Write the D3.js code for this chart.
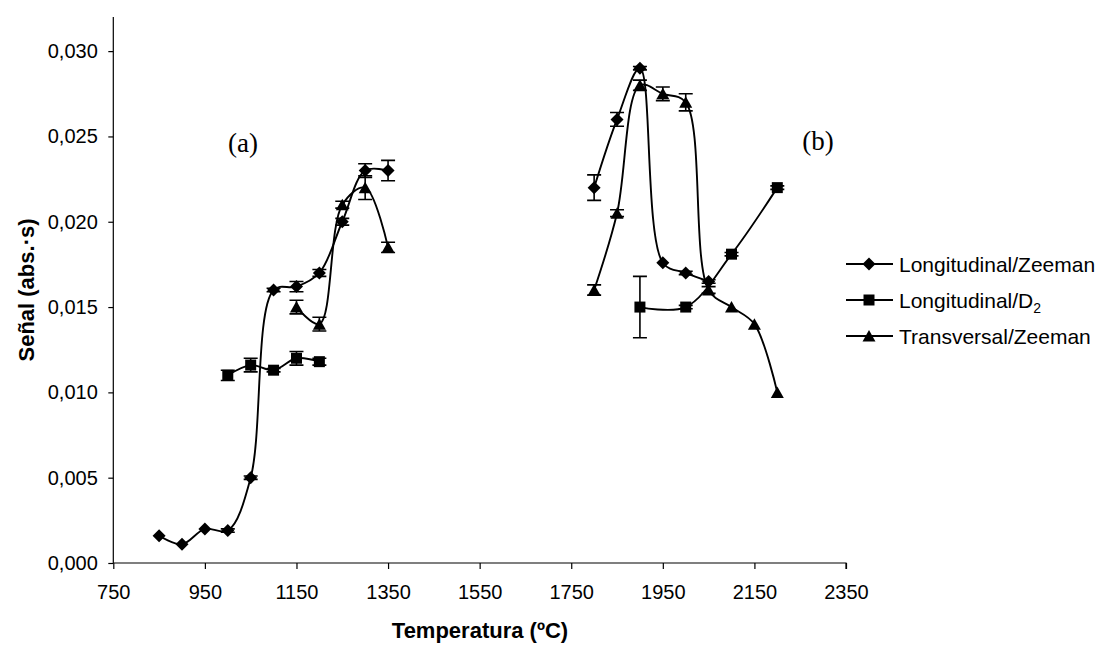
<!DOCTYPE html>
<html><head><meta charset="utf-8">
<script src="https://cdn.jsdelivr.net/npm/d3@7"></script>
<style>
html,body{margin:0;padding:0;background:#fff;}
svg{display:block;}
text{font-family:"Liberation Sans",Arial,sans-serif;fill:#000;}
</style></head>
<body>
<svg id="chart" width="1099" height="646"></svg>
<script>
// ---- Data ----
const seriesNames = ["Longitudinal/Zeeman", "Longitudinal/D2", "Transversal/Zeeman"];
const xTickLabels = [750, 950, 1150, 1350, 1550, 1750, 1950, 2150, 2350];
const yTickLabels = [0, 0.005, 0.010, 0.015, 0.020, 0.025, 0.030];

// (a) region temperatures
const tempsA = [850, 900, 950, 1000, 1050, 1100, 1150, 1200, 1250, 1300, 1350];
const longZeemanA = [0.0016, 0.0011, 0.0020, 0.0019, 0.0050, 0.0160, 0.0162, 0.0170, 0.0200, 0.0230, 0.0230];
const longZeemanErrA = [0, 0, 0, 0.0001, 0.0001, 0.0001, 0.0003, 0.0002, 0.0002, 0.0004, 0.0006];
const longD2A = [null, null, null, 0.0110, 0.0116, 0.0113, 0.0120, 0.0118, null, null, null];
const longD2ErrA = [0, 0, 0, 0.0003, 0.0004, 0.0001, 0.0004, 0.0002, 0, 0, 0];
const transZeemanA = [null, null, null, null, null, null, 0.0150, 0.0140, 0.0210, 0.0220, 0.0185];
const transZeemanErrA = [0, 0, 0, 0, 0, 0, 0.0004, 0.0004, 0.0002, 0.0007, 0.0003];

// (b) region temperatures
const tempsB = [1800, 1850, 1900, 1950, 2000, 2050, 2100, 2150, 2200];
const longZeemanB = [0.0220, 0.0260, 0.0290, 0.0176, 0.0170, 0.0165, null, null, null];
const longZeemanErrB = [0.00075, 0.0004, 0.0001, 0, 0.0001, 0.0001, 0, 0, 0];
const longD2B = [null, null, 0.0150, null, 0.0150, null, 0.0181, null, 0.0220];
const longD2ErrB = [0, 0, 0.0018, 0, 0.0001, 0, 0.0001, 0, 0.0001];
const transZeemanB = [0.0160, 0.0205, 0.0280, 0.0275, 0.0270, 0.0160, 0.0150, 0.0140, 0.0100];
const transZeemanErrB = [0.0003, 0.0002, 0.0003, 0.0004, 0.0005, 0.0002, 0, 0, 0];

const regionLabels = ["(a)", "(b)"];

// ---- Build ----
const svg = d3.select("#chart");
const x = d3.scaleLinear().domain([750, 2350]).range([113.3, 846]);
const y = d3.scaleLinear().domain([0, 0.032]).range([563, 17]);

function pts(temps, vals, errs) {
  return temps.map((t, i) => ({t, v: vals[i], e: errs[i]})).filter(d => d.v !== null);
}
const series = [
  {name: seriesNames[0], shape: "diamond", groups: [pts(tempsA, longZeemanA, longZeemanErrA), pts(tempsB, longZeemanB, longZeemanErrB)]},
  {name: seriesNames[1], shape: "square", groups: [pts(tempsA, longD2A, longD2ErrA), pts(tempsB, longD2B, longD2ErrB)]},
  {name: seriesNames[2], shape: "triangle", groups: [pts(tempsA, transZeemanA, transZeemanErrA), pts(tempsB, transZeemanB, transZeemanErrB)]}
];

// axes
const fmt = d => d3.format(".3f")(d).replace(".", ",");
const yAxis = svg.append("g").attr("transform", "translate(113.3,0)")
  .call(d3.axisLeft(y).tickValues(yTickLabels).tickFormat(fmt).tickSize(5).tickPadding(10.5));
const xAxis = svg.append("g").attr("transform", "translate(0,563)")
  .call(d3.axisBottom(x).tickValues(xTickLabels).tickFormat(d3.format("d")).tickSize(6).tickPadding(16));
[yAxis, xAxis].forEach(g => {
  g.selectAll("path.domain").attr("stroke", "#000").attr("stroke-width", 1.2);
  g.selectAll(".tick line").attr("stroke", "#000").attr("stroke-width", 1.2);
  g.selectAll(".tick text").style("font-size", "20px").style("font-family", "'Liberation Sans', Arial, sans-serif").attr("fill", "#000");
});
yAxis.select("path.domain").attr("d", `M0,${y(0)}V${y(0.032)}`);
xAxis.select("path.domain").attr("d", `M${x(750)},0H${x(2350)}V6`);

// titles
svg.append("text").attr("x", 480).attr("y", 638).attr("text-anchor", "middle")
  .style("font-size", "22px").style("font-weight", "bold").text("Temperatura (ºC)");
svg.append("text").attr("transform", "translate(34,290) rotate(-90)").attr("text-anchor", "middle")
  .style("font-size", "22px").style("font-weight", "bold").text("Señal (abs.·s)");

// region labels
svg.selectAll("text.reg").data(regionLabels).enter().append("text")
  .attr("x", (d, i) => i === 0 ? 243 : 818).attr("y", (d, i) => i === 0 ? 152 : 150)
  .attr("text-anchor", "middle")
  .style("font-family", "'Liberation Serif','Times New Roman',serif").style("font-size", "27px")
  .text(d => d);

// lines
const line = d3.line().x(d => x(d.t)).y(d => y(d.v)).curve(d3.curveCatmullRom.alpha(0.5));
const plot = svg.append("g");
series.forEach(s => {
  s.groups.forEach(g => {
    plot.append("path").datum(g).attr("d", line).attr("fill", "none").attr("stroke", "#000").attr("stroke-width", 1.9);
  });
});

// markers
function markerPath(shape) {
  if (shape === "diamond") return "M0,-6.5L6.5,0L0,6.5L-6.5,0Z";
  if (shape === "square") return "M-5.5,-5.5H5.5V5.5H-5.5Z";
  return "M0,-6L6.5,5.5H-6.5Z";
}
// error bars
series.forEach(s => {
  s.groups.forEach(g => {
    g.filter(d => d.e > 0).forEach(d => {
      const cx = x(d.t), y1 = y(d.v + d.e), y2 = y(d.v - d.e);
      plot.append("path").attr("d", `M${cx},${y1}V${y2}M${cx - 7},${y1}H${cx + 7}M${cx - 7},${y2}H${cx + 7}`)
        .attr("stroke", "#000").attr("stroke-width", 1.6).attr("fill", "none");
    });
  });
});
series.forEach(s => {
  s.groups.forEach(g => {
    plot.selectAll(null).data(g).enter().append("path")
      .attr("transform", d => `translate(${x(d.t)},${y(d.v)})`)
      .attr("d", markerPath(s.shape)).attr("fill", "#000");
  });
});

// legend
const leg = svg.append("g");
series.forEach((s, i) => {
  const cy = 264 + i * 36;
  leg.append("line").attr("x1", 846).attr("x2", 893).attr("y1", cy).attr("y2", cy).attr("stroke", "#000").attr("stroke-width", 1.9);
  leg.append("path").attr("transform", `translate(869,${cy})`).attr("d", markerPath(s.shape)).attr("fill", "#000");
  const t = leg.append("text").attr("x", 899).attr("y", cy + 7.5).style("font-size", "21px");
  if (s.name.endsWith("D2")) {
    t.append("tspan").text("Longitudinal/D");
    t.append("tspan").attr("dy", 5).style("font-size", "14px").text("2");
  } else t.text(s.name);
});
</script>
</body></html>
